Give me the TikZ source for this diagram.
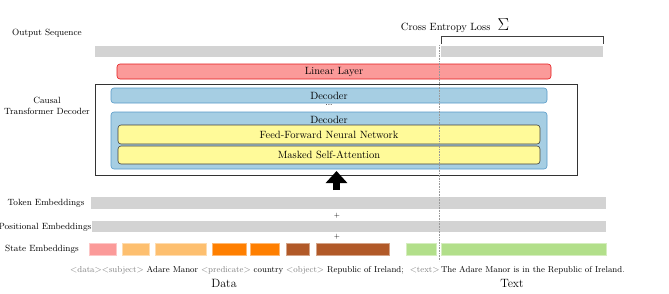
\documentclass[tikz,border=0pt]{standalone}
\usepackage{amsmath,amssymb}
\usepackage{xcolor}
\usepackage{tikz}
\usetikzlibrary{
  arrows.meta,
  positioning,
  calc
}

% paired palette
\definecolor{pLightBlue}{HTML}{A6CEE3}
\definecolor{pBlue}{HTML}{1F78B4}
\definecolor{pPink}{HTML}{FB9A99}
\definecolor{pRed}{HTML}{E31A1C}
\definecolor{pLightOrange}{HTML}{FDBF6F}
\definecolor{pOrange}{HTML}{FF7F00}
\definecolor{pYellow}{HTML}{FFFA99}
\definecolor{pBrown}{HTML}{B15928}
\definecolor{pLightGreen}{HTML}{B2DF8A}
\definecolor{barGray}{HTML}{D3D3D3}

\newcommand{\tok}[1]{\textcolor{gray}{$<$#1$>$}}

\begin{document}
\begin{tikzpicture}[x=1pt,y=-1pt,
  bar/.style={fill=barGray, inner sep=0pt, minimum height=11pt},
  block/.style={rounded corners=3pt, inner sep=0pt, line width=0.6pt,
    font=\fontsize{10.5}{12}\selectfont},
  linearbox/.style={block, fill=pPink, draw=pRed},
  decbox/.style={block, fill=pLightBlue, draw=pBlue!75},
  subbox/.style={block, fill=pYellow, draw=black!75},
  statebox/.style={fill=#1, draw=#1!55, line width=0.4pt, inner sep=0pt, minimum height=12pt},
  sidelabel/.style={font=\fontsize{9}{11}\selectfont, align=center},
  bigarrow/.style={line width=6.5pt, -{Triangle[length=12pt,width=21pt]}}
]
  \useasboundingbox (0,0) rectangle (669,293);

  % side labels
  \node[sidelabel] (lout) at (47,33) {Output Sequence};
  \node[sidelabel] (lcausal) at (47,106) {Causal\\Transformer Decoder};
  \node[sidelabel] (ltok) at (46,203) {Token Embeddings};
  \node[sidelabel] (lpos) at (45,227) {Positional Embeddings};
  \node[sidelabel] (lstate) at (42,249) {State Embeddings};

  % output sequence and loss
  \node[bar, minimum width=341pt] (outL) at (265.5,51.5) {};
  \node[bar, minimum width=162pt] (outR) at (522,51.5) {};
  \draw[black!75, line width=0.6pt] (outR.north west) ++(0,-2) -- ++(0,-8) -| ($(outR.north east)+(0,-2)$);
  \node[font=\fontsize{10.5}{12}\selectfont] (loss) at (455,25.5) {Cross Entropy Loss \ {\fontsize{16}{18}\selectfont$\Sigma$}};

  % decoder stack
  \node[linearbox, minimum width=434pt, minimum height=15pt] (linear) at (334,71.5) {Linear Layer};
  \node[draw=black!80, line width=0.7pt, inner sep=0pt, minimum width=482pt, minimum height=91pt] (causal) at (336,129.5) {};
  \node[decbox, minimum width=436pt, minimum height=15pt] (dec1) at (329,95.5) {Decoder};
  \node[font=\fontsize{6}{6}\selectfont] (dots) at (329,105) {\textbf{...}};
  \node[decbox, minimum width=436pt, minimum height=57pt] (dec2) at (329,140.5) {};
  \node[font=\fontsize{10.5}{12}\selectfont, below=0.5pt of dec2.north] (dec2lbl) {Decoder};
  \node[subbox, minimum width=422pt, minimum height=19pt] (ffn) at (329,134.5) {Feed-Forward Neural Network};
  \node[subbox, minimum width=422pt, minimum height=18pt] (msa) at (329,155) {Masked Self-Attention};

  % embeddings
  \node[bar, minimum width=515pt, minimum height=12pt] (token) at (348.5,203) {};
  \node[font=\fontsize{7}{7}\selectfont] (plus1) at (337,215.5) {+};
  \node[bar, minimum width=514pt] (pos) at (349,226.5) {};
  \node[font=\fontsize{7}{7}\selectfont] (plus2) at (337,237) {+};

  \node[statebox=pPink, minimum width=27pt] (s1) at (102.5,249) {};
  \node[statebox=pLightOrange, minimum width=27pt] (s2) at (135.5,249) {};
  \node[statebox=pLightOrange, minimum width=51pt] (s3) at (180.5,249) {};
  \node[statebox=pOrange, minimum width=34pt] (s4) at (229,249) {};
  \node[statebox=pOrange, minimum width=29pt] (s5) at (264.5,249) {};
  \node[statebox=pBrown, minimum width=23pt] (s6) at (297.5,249) {};
  \node[statebox=pBrown, minimum width=73pt] (s7) at (352.5,249) {};
  \node[statebox=pLightGreen, minimum width=30pt] (s8) at (421,249) {};
  \node[statebox=pLightGreen, minimum width=165pt] (s9) at (523.5,249) {};

  % arrow into the decoder
  \coordinate (abase) at (336.5,190);
  \coordinate (atip) at (336.5,171);
  \draw[bigarrow] (abase) -- (atip);

  % data / text split
  \coordinate (splittop) at (439,45);
  \coordinate (splitbot) at (439,261);
  \draw[gray!80, densely dotted, line width=0.6pt] (splittop) -- (splitbot);

  % input sequence
  \node[font=\fontsize{8.6}{10}\selectfont, inner sep=0pt] (seq) at (347.5,270)
    {\tok{data}\tok{subject} Adare Manor \tok{predicate} country \tok{object} Republic of Ireland;\ \ \tok{text}\,The Adare Manor is in the Republic of Ireland.};
  \node[font=\fontsize{12}{14}\selectfont] (ldata) at (224,283.5) {Data};
  \node[font=\fontsize{12}{14}\selectfont] (ltext) at (512,283.5) {Text};
\end{tikzpicture}
\end{document}
